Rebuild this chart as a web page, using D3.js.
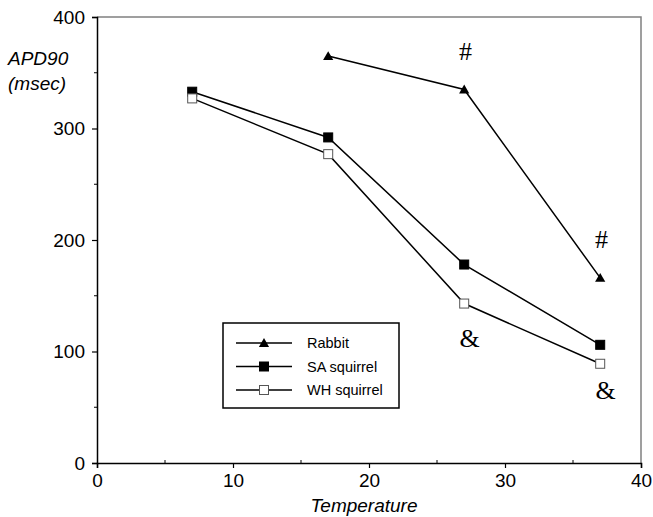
<!DOCTYPE html>
<html><head><meta charset="utf-8">
<script src="https://cdn.jsdelivr.net/npm/d3@7"></script>
<style>body{margin:0;background:#fff}</style>
</head><body>
<svg id="c" width="653" height="517"></svg>
<script>
const temps = [7, 17, 27, 37];
const rabbit = [null, 365, 335, 166];
const saSquirrel = [333, 292, 178, 106];
const whSquirrel = [327, 277, 143, 89];
const seriesNames = ["Rabbit", "SA squirrel", "WH squirrel"];
const xTicks = [0, 10, 20, 30, 40];
const yTicks = [0, 100, 200, 300, 400];
const annotations = [
  {t: 27.1, v: 361, s: "#"}, {t: 37.1, v: 193, s: "#"},
  {t: 27.4, v: 104, s: "&"}, {t: 37.4, v: 57, s: "&"}
];

const svg = d3.select("#c");
const L = 97, R = 641, T = 17, B = 463;
const x = d3.scaleLinear().domain([0, 40]).range([L, R]);
const y = d3.scaleLinear().domain([0, 400]).range([B, T]);

svg.append("path").attr("d", `M${L},${T}H${R}V${B}`).attr("fill","none").attr("stroke","#808080").attr("stroke-width",1.5);

const fontS = "Liberation Sans, Arial, sans-serif";
const xa = svg.append("g").attr("transform", `translate(0,${B})`)
  .call(d3.axisBottom(x).tickValues(xTicks).tickSize(5).tickPadding(6));
const ya = svg.append("g").attr("transform", `translate(${L},0)`)
  .call(d3.axisLeft(y).tickValues(yTicks).tickSize(5).tickPadding(7));
[xa, ya].forEach(a => {
  a.select(".domain").attr("stroke","#000").attr("stroke-width",1.5);
  a.selectAll(".tick line").attr("stroke","#000").attr("stroke-width",1.2);
  a.selectAll("text").attr("font-family", fontS).attr("font-size", 19).attr("fill","#000");
});
svg.append("g").selectAll("line").data([5,15,25,35]).join("line")
  .attr("x1", d=>x(d)).attr("x2", d=>x(d)).attr("y1", B).attr("y2", B-3).attr("stroke","#000");
svg.append("g").selectAll("line").data([50,150,250,350]).join("line")
  .attr("x1", L).attr("x2", L-3).attr("y1", d=>y(d)).attr("y2", d=>y(d)).attr("stroke","#000");

svg.append("text").attr("x", 364).attr("y", 512).attr("text-anchor","middle")
  .attr("font-family", fontS).attr("font-size",19).attr("font-style","italic").text("Temperature");
svg.append("text").attr("x", 8).attr("y", 65)
  .attr("font-family", fontS).attr("font-size",19).attr("font-style","italic").text("APD90");
svg.append("text").attr("x", 8).attr("y", 90)
  .attr("font-family", fontS).attr("font-size",19).attr("font-style","italic").text("(msec)");

const data = [rabbit, saSquirrel, whSquirrel];
const line = d3.line().defined(d => d[1] != null).x(d => x(d[0])).y(d => y(d[1]));
const tri = d3.symbol().type(d3.symbolTriangle).size(45);

function marker(g, i, cx, cy) {
  if (i === 0) {
    g.append("path").attr("d", tri()).attr("transform", `translate(${cx},${cy+1})`).attr("fill","#000");
  } else {
    g.append("rect").attr("x", cx-4.5).attr("y", cy-4.5).attr("width", 9).attr("height", 9)
      .attr("fill", i === 1 ? "#000" : "#fff").attr("stroke", i===1 ? "#000" : "#555").attr("stroke-width", 1);
  }
}

data.forEach((vals, i) => {
  const pts = temps.map((t, k) => [t, vals[k]]);
  svg.append("path").attr("d", line(pts)).attr("fill","none").attr("stroke","#000").attr("stroke-width",1.5);
  const g = svg.append("g");
  pts.filter(p => p[1] != null).forEach(p => marker(g, i, x(p[0]), y(p[1])));
});

svg.append("g").selectAll("text").data(annotations).join("text")
  .attr("x", d => x(d.t)).attr("y", d => y(d.v)).attr("text-anchor","middle")
  .attr("font-family","Liberation Serif, Times New Roman, serif").attr("font-size",26)
  .text(d => d.s);

const lg = svg.append("g");
lg.append("rect").attr("x", 223).attr("y", 323).attr("width", 176).attr("height", 85)
  .attr("fill","#fff").attr("stroke","#000").attr("stroke-width",1.5);
seriesNames.forEach((n, i) => {
  const yy = 343 + i * 23.5;
  lg.append("line").attr("x1", 236).attr("x2", 292).attr("y1", yy).attr("y2", yy).attr("stroke","#000").attr("stroke-width",1.5);
  marker(lg, i, 264, yy);
  lg.append("text").attr("x", 307).attr("y", yy + 5).attr("font-family", fontS).attr("font-size", 14.5).text(n);
});
</script>
</body></html>
